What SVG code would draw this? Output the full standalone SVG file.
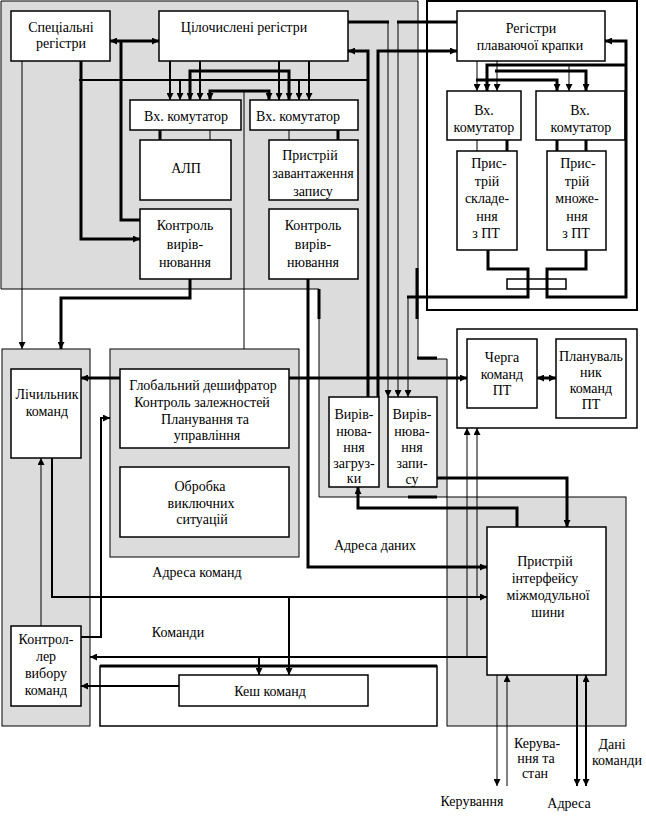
<svg xmlns="http://www.w3.org/2000/svg" width="646" height="816" viewBox="0 0 646 816">
<style>
.g{fill:#dcdcdc;stroke:#000;stroke-width:1}
.b{fill:#fff;stroke:#000;stroke-width:1.5}
.t1{fill:none;stroke:#000;stroke-width:1}
.t2{fill:none;stroke:#000;stroke-width:2}
.t3{fill:none;stroke:#000;stroke-width:3}
text{font-size:14px;fill:#000;text-anchor:middle}
</style>
<defs>
<marker id="a" markerUnits="userSpaceOnUse" markerWidth="7" markerHeight="7" viewBox="0 0 7 7" refX="7" refY="3.5" orient="auto"><path d="M0,0 L7,3.5 L0,7z" fill="#000"/></marker>
<marker id="s" markerUnits="userSpaceOnUse" markerWidth="7" markerHeight="7" viewBox="0 0 7 7" refX="7" refY="3.5" orient="auto-start-reverse"><path d="M0,0 L7,3.5 L0,7z" fill="#000"/></marker>
</defs>
<rect width="646" height="816" fill="#fff"/>
<g id="regions">
<polygon class="g" points="1,1 418,1 418,359 447,359 447,497 319,497 319,289 1,289"/>
<rect class="b" x="427" y="1" width="210" height="309" style="stroke-width:2"/>
<rect class="b" x="457" y="329" width="180" height="99"/>
<rect class="g" x="2" y="349" width="88" height="377"/>
<rect class="g" x="110" y="349" width="189" height="208"/>
<rect class="g" x="447" y="497" width="179" height="229"/>
<rect class="b" x="100" y="666" width="337" height="60"/>
<line x1="100" y1="666" x2="437" y2="666" class="t3"/>
</g>
<g font-family="Liberation Serif, Times New Roman, serif">
<g id="n-spec"><rect class="b" x="11" y="11" width="99" height="50"/><text x="61" y="32">Спеціальні</text><text x="61" y="48">регістри</text></g>
<g id="n-int"><rect class="b" x="159" y="11" width="189" height="50"/><text x="244" y="32">Цілочислені регістри</text></g>
<g id="n-mux1"><rect class="b" x="130" y="100" width="111" height="30"/><text x="186" y="121">Вх. комутатор</text></g>
<g id="n-mux2"><rect class="b" x="250" y="100" width="108" height="30"/><text x="298" y="121">Вх. комутатор</text></g>
<g id="n-alu"><rect class="b" x="140" y="140" width="91" height="60"/><text x="186" y="173">АЛП</text></g>
<g id="n-ls"><rect class="b" x="269" y="140" width="89" height="60"/><text x="310" y="160">Пристрій</text><text x="313" y="178">завантаження</text><text x="313" y="196">запису</text></g>
<g id="n-al1"><rect class="b" x="140" y="209" width="91" height="70"/><text x="185" y="230">Контроль</text><text x="185" y="249">вирів-</text><text x="185" y="267">нювання</text></g>
<g id="n-al2"><rect class="b" x="269" y="209" width="89" height="70"/><text x="313" y="230">Контроль</text><text x="313" y="249">вирів-</text><text x="313" y="267">нювання</text></g>
<g id="n-fpr"><rect class="b" x="457" y="11" width="148" height="50"/><text x="531" y="33">Регістри</text><text x="530" y="50">плаваючої крапки</text></g>
<g id="n-fmux1"><rect class="b" x="447" y="91" width="74" height="49"/><text x="484" y="115">Вх.</text><text x="484" y="132">комутатор</text></g>
<g id="n-fmux2"><rect class="b" x="536" y="91" width="89" height="49"/><text x="580" y="115">Вх.</text><text x="581" y="132">комутатор</text></g>
<g id="n-fadd"><rect class="b" x="457" y="151" width="60" height="99"/><text x="489" y="168">Прис-</text><text x="487" y="186">трій</text><text x="487" y="203">складе-</text><text x="487" y="221">ння</text><text x="486" y="238">з ПТ</text></g>
<g id="n-fmul"><rect class="b" x="547" y="151" width="59" height="99"/><text x="578" y="168">Прис-</text><text x="577" y="186">трій</text><text x="577" y="203">множе-</text><text x="577" y="221">ння</text><text x="576" y="238">з ПТ</text></g>
<g id="n-fbus"><rect class="b" x="507" y="279" width="59" height="10"/></g>
<g id="n-fq"><rect class="b" x="467" y="339" width="70" height="69"/><text x="502" y="362">Черга</text><text x="502" y="379">команд</text><text x="502" y="395">ПТ</text></g>
<g id="n-fs"><rect class="b" x="556" y="339" width="70" height="79"/><text x="591" y="361">Плануваль</text><text x="591" y="377">ник</text><text x="591" y="393">команд</text><text x="591" y="409">ПТ</text></g>
<g id="n-pc"><rect class="b" x="11" y="369" width="70" height="89"/><text x="47" y="399">Лічильник</text><text x="47" y="416">команд</text></g>
<g id="n-dec"><rect class="b" x="120" y="369" width="169" height="79"/><text x="203" y="390">Глобальний дешифратор</text><text x="202" y="407">Контроль залежностей</text><text x="205" y="424">Планування та</text><text x="207" y="440">управління</text></g>
<g id="n-exc"><rect class="b" x="120" y="467" width="169" height="70"/><text x="200" y="491">Обробка</text><text x="201" y="508">виключних</text><text x="202" y="524">ситуацій</text></g>
<g id="n-fetch"><rect class="b" x="11" y="626" width="70" height="80"/><text x="46" y="644">Контрол-</text><text x="46" y="661">лер</text><text x="46" y="678">вибору</text><text x="46" y="695">команд</text></g>
<g id="n-cache"><rect class="b" x="179" y="675" width="189" height="31"/><text x="270" y="696">Кеш команд</text></g>
<g id="n-lda"><rect class="b" x="329" y="397" width="50" height="90"/><text x="354" y="419">Вирів-</text><text x="354" y="436">нюва-</text><text x="354" y="452">ння</text><text x="354" y="468">загруз-</text><text x="354" y="483">ки</text></g>
<g id="n-sta"><rect class="b" x="388" y="397" width="49" height="90"/><text x="412" y="419">Вирів-</text><text x="412" y="436">нюва-</text><text x="412" y="452">ння</text><text x="412" y="468">запи-</text><text x="412" y="484">су</text></g>
<g id="n-biu"><rect class="b" x="487" y="527" width="119" height="148"/><text x="545" y="566">Пристрій</text><text x="545" y="583">інтерфейсу</text><text x="548" y="600">міжмодульної</text><text x="548" y="617">шини</text></g>
<g id="labels">
<text x="197" y="577">Адреса команд</text>
<text x="178" y="637">Команди</text>
<text x="375" y="550">Адреса даних</text>
<text x="537" y="748">Керува-</text><text x="536" y="763">ння та</text><text x="535" y="778">стан</text>
<text x="612" y="749">Дані</text><text x="617" y="765">команди</text>
<text x="472" y="806">Керування</text>
<text x="569" y="808">Адреса</text>
</g>
</g>
<g id="connectors">
<path class="t3" d="M110,41 H159" marker-start="url(#s)" marker-end="url(#a)"/>
<path class="t3" d="M121,41 V220 H140"/>
<path class="t3" d="M81,61 V239 H140" marker-end="url(#a)"/>
<path class="t1" d="M22,61 V349" marker-end="url(#a)"/>
<path class="t2" d="M79,80 H368"/>
<path class="t2" d="M170,61 V100" marker-end="url(#a)"/>
<path class="t2" d="M180,80 V100" marker-end="url(#a)"/>
<path class="t3" d="M190,100 V71 H289 V100" marker-start="url(#s)" marker-end="url(#a)"/>
<path class="t2" d="M200,61 V100" marker-end="url(#a)"/>
<path class="t3" d="M210,100 V91 H269 V100" marker-start="url(#s)" marker-end="url(#a)"/>
<path class="t1" d="M244,90 V349"/>
<path class="t2" d="M279,61 V100" marker-end="url(#a)"/>
<path class="t2" d="M299,80 V100" marker-end="url(#a)"/>
<path class="t2" d="M309,61 V100" marker-end="url(#a)"/>
<path class="t3" d="M160,130 V140"/>
<path class="t1" d="M210,130 V140"/>
<path class="t1" d="M289,130 V140"/>
<path class="t3" d="M338,130 V140"/>
<path class="t3" d="M348,22 H389"/>
<path class="t1" d="M388,22 V397" marker-end="url(#a)"/>
<path class="t3" d="M457,22 H397"/>
<path class="t1" d="M398,22 V397" marker-end="url(#a)"/>
<path class="t3" d="M368,397 V51 H348" marker-end="url(#a)"/>
<path class="t3" d="M378,397 V51 H457" marker-end="url(#a)"/>
<path class="t3" d="M586,250 V269 H547 V297 H626 V41 H605" marker-end="url(#a)"/>
<path class="t3" d="M488,250 V269 H528 V297 H407"/>
<path class="t1" d="M408,297 V397" marker-end="url(#a)"/>
<path class="t3" d="M626,65 H487 V91" marker-end="url(#a)"/>
<path class="t1" d="M477,61 V91" marker-end="url(#a)"/>
<path class="t3" d="M476,80 H557 V91" marker-end="url(#a)"/>
<path class="t1" d="M497,61 V91" marker-end="url(#a)"/>
<path class="t3" d="M495,71 H586 V91" marker-end="url(#a)"/>
<path class="t1" d="M569,65 V91" marker-end="url(#a)"/>
<path class="t1" d="M477,140 V151"/>
<path class="t3" d="M507,140 V151"/>
<path class="t3" d="M557,140 V151"/>
<path class="t3" d="M586,140 V151"/>
<path class="t3" d="M190,279 V298 H61 V349" marker-end="url(#a)"/>
<path class="t3" d="M308,279 V567 H487" marker-end="url(#a)"/>
<path class="t3" d="M417,268 V319 M417,358 H437 M408,497 H437 M319,289 V319"/>
<path class="t3" d="M120,378 H81" marker-end="url(#a)"/>
<path class="t3" d="M289,378 H467" marker-end="url(#a)"/>
<path class="t3" d="M537,378 H556" marker-start="url(#s)" marker-end="url(#a)"/>
<path class="t2" d="M81,637 H101 V418 H110" marker-end="url(#a)"/>
<path class="t1" d="M41,626 V458" marker-end="url(#a)"/>
<path class="t2" d="M52,458 V597 H487" marker-end="url(#a)"/>
<path class="t1" d="M477,597 V428" marker-end="url(#a)"/>
<path class="t1" d="M467,657 V428" marker-end="url(#a)"/>
<path class="t2" d="M487,657 H90" marker-end="url(#a)"/>
<path class="t2" d="M259,657 V675" marker-end="url(#a)"/>
<path class="t2" d="M289,597 V675" marker-end="url(#a)"/>
<path class="t2" d="M179,686 H81" marker-end="url(#a)"/>
<path class="t3" d="M437,478 H567 V527" marker-end="url(#a)"/>
<path class="t3" d="M517,527 V508 H358 V487" marker-end="url(#a)"/>
<path class="t1" d="M497,675 V786" marker-end="url(#a)"/>
<path class="t1" d="M507,786 V675" marker-end="url(#a)"/>
<path class="t2" d="M577,675 V786" marker-end="url(#a)"/>
<path class="t2" d="M586,675 V786" marker-start="url(#s)" marker-end="url(#a)"/>
</g>
</svg>
